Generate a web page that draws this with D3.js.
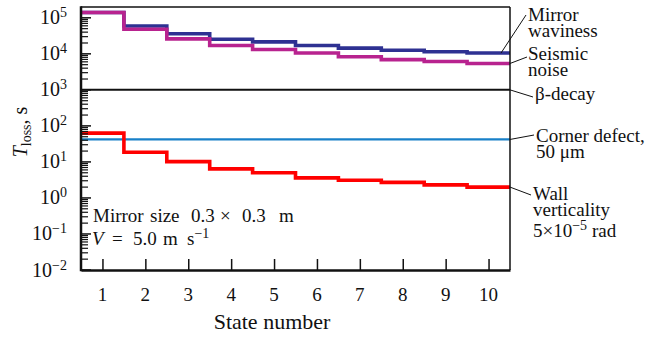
<!DOCTYPE html>
<html>
<head>
<meta charset="utf-8">
<script src="https://cdn.jsdelivr.net/npm/d3@7"></script>
<style>
  html, body { margin: 0; padding: 0; background: #fff; }
  svg { display: block; }
  text { font-family: "Liberation Serif", "DejaVu Serif", serif; fill: #111; }
</style>
</head>
<body>
<svg id="chart" width="664" height="338"></svg>
<script>
// Loss time T_loss (s) for each state number
const states = [1, 2, 3, 4, 5, 6, 7, 8, 9, 10];
const mirrorWaviness = [1.4e5, 5.9e4, 3.6e4, 2.55e4, 2.15e4, 1.7e4, 1.44e4, 1.26e4, 1.14e4, 1.05e4];
const seismicNoise   = [1.4e5, 4.8e4, 2.6e4, 1.7e4, 1.32e4, 1.05e4, 8.3e3, 6.9e3, 6.1e3, 5.4e3];
const wallVerticality = [63, 18.6, 10.2, 6.4, 5.0, 3.6, 3.1, 2.7, 2.3, 2.0];
const betaDecay = 1000;
const cornerDefect = 42;

const xTicks = [1, 2, 3, 4, 5, 6, 7, 8, 9, 10];
const yExponents = [-2, -1, 0, 1, 2, 3, 4, 5];

(function () {
const svg = d3.select("#chart");
const pLeft = 81, pRight = 510, pTop = 7, pBottom = 270;

const x = d3.scaleLinear().domain([0.5, 10.5]).range([pLeft, pRight]);
const y = d3.scaleLog().domain([1e-2, Math.pow(10, 5.3)]).range([pBottom, pTop]);

// Step outline: each state spans [n - 0.5, n + 0.5]
function stepPoints(vals) {
  const pts = vals.map((v, i) => [states[i] - 0.5, v]);
  pts.push([states[states.length - 1] + 0.5, vals[vals.length - 1]]);
  return pts;
}
const stepLine = d3.line()
  .x(d => x(d[0]))
  .y(d => y(d[1]))
  .curve(d3.curveStepAfter);

const plot = svg.append("g");

// constant levels
plot.append("line")
  .attr("x1", pLeft).attr("x2", pRight)
  .attr("y1", y(betaDecay)).attr("y2", y(betaDecay))
  .attr("stroke", "#111").attr("stroke-width", 2);
plot.append("line")
  .attr("x1", pLeft).attr("x2", pRight)
  .attr("y1", y(cornerDefect)).attr("y2", y(cornerDefect))
  .attr("stroke", "#1880c8").attr("stroke-width", 2.2);

const series = [
  { vals: mirrorWaviness, color: "#2e3192" },
  { vals: seismicNoise, color: "#b8238f" },
  { vals: wallVerticality, color: "#ff0000" }
];
series.forEach(s => {
  plot.append("path")
    .attr("d", stepLine(stepPoints(s.vals)))
    .attr("fill", "none")
    .attr("stroke", s.color)
    .attr("stroke-width", 3.6)
    .attr("stroke-linejoin", "miter");
});

// frame: thin top/right, heavier left/bottom axes
svg.append("line").attr("x1", pLeft).attr("x2", pRight).attr("y1", pTop).attr("y2", pTop)
  .attr("stroke", "#111").attr("stroke-width", 1.5);
svg.append("line").attr("x1", pRight).attr("x2", pRight).attr("y1", pTop).attr("y2", pBottom)
  .attr("stroke", "#111").attr("stroke-width", 1.5);

// x axis: ticks pointing inward
const xAxis = d3.axisBottom(x).tickValues(xTicks).tickSizeInner(-11).tickSizeOuter(0).tickFormat("");
const gx = svg.append("g").attr("transform", `translate(0,${pBottom})`).call(xAxis);
gx.select(".domain").attr("stroke", "#111").attr("stroke-width", 2.5);
gx.selectAll(".tick line").attr("stroke", "#111").attr("stroke-width", 1.5);
svg.append("g").selectAll("text").data(xTicks).join("text")
  .attr("x", d => x(d)).attr("y", 301)
  .attr("text-anchor", "middle")
  .attr("font-size", 19)
  .text(d => d);

// y axis: decade ticks and minor ticks pointing inward
const minorTicks = [];
yExponents.slice(0, -1).forEach(e => {
  for (let k = 2; k <= 9; k++) minorTicks.push(k * Math.pow(10, e));
});
for (let k = 2; k <= 9; k++) {
  const v = k * 1e5;
  if (v <= y.domain()[1]) minorTicks.push(v);
}
const gy = svg.append("g");
gy.selectAll(".minor").data(minorTicks).join("line")
  .attr("x1", pLeft).attr("x2", pLeft + 7)
  .attr("y1", d => y(d)).attr("y2", d => y(d))
  .attr("stroke", "#111").attr("stroke-width", 1.2);
gy.selectAll(".major").data(yExponents).join("line")
  .attr("x1", pLeft).attr("x2", pLeft + 10)
  .attr("y1", d => y(Math.pow(10, d))).attr("y2", d => y(Math.pow(10, d)))
  .attr("stroke", "#111").attr("stroke-width", 1.5);
gy.append("line").attr("x1", pLeft).attr("x2", pLeft).attr("y1", pTop - 0.75).attr("y2", pBottom + 1.25)
  .attr("stroke", "#111").attr("stroke-width", 2.5);

const yl = gy.selectAll(".ylab").data(yExponents).join("text")
  .attr("x", 67).attr("y", d => y(Math.pow(10, d)) + 6.5)
  .attr("text-anchor", "end").attr("font-size", 20);
yl.append("tspan").text("10");
yl.append("tspan").attr("dy", -7).attr("font-size", 14)
  .text(d => d < 0 ? "\u2212" + Math.abs(d) : String(d));

// axis titles
svg.append("text").attr("x", 272).attr("y", 329).attr("text-anchor", "middle")
  .attr("font-size", 22).text("State number");
const yt = svg.append("text")
  .attr("transform", "translate(27,132) rotate(-90)")
  .attr("text-anchor", "middle").attr("font-size", 20);
yt.append("tspan").attr("font-style", "italic").text("T");
yt.append("tspan").attr("dy", 4).attr("font-size", 14).text("loss");
yt.append("tspan").attr("dy", -4).text(", s");

// conditions (math-style spacing around operators and units)
const ms = svg.append("text").attr("y", 222).attr("font-size", 19);
[["Mirror", 93], ["size", 150], ["0.3", 191], ["\u00d7", 220], ["0.3", 242], ["m", 279]].forEach(([t, px]) => {
  ms.append("tspan").attr("x", px).text(t);
});
const vt = svg.append("text").attr("y", 245).attr("font-size", 19);
vt.append("tspan").attr("x", 92).attr("font-style", "italic").text("V");
vt.append("tspan").attr("x", 112).text("=");
vt.append("tspan").attr("x", 133).text("5.0");
vt.append("tspan").attr("x", 163).text("m");
vt.append("tspan").attr("x", 187).text("s");
vt.append("tspan").attr("dy", -7).attr("font-size", 14).text("\u22121");

// curve labels with leaders
const labels = [
  { from: [501, y(mirrorWaviness[9])], to: [526, 15], x: 528, y0: 21, lines: ["Mirror", "waviness"] },
  { from: [pRight, y(seismicNoise[9])], to: [527, 57], x: 528, y0: 60, lines: ["Seismic", "noise"] },
  { from: [pRight, y(betaDecay)], to: [533, 97], x: 535, y0: 100, lines: ["\u03b2-decay"] },
  { from: [pRight, y(cornerDefect)], to: [534, 135], x: 536, y0: 142, lines: ["Corner defect,", "50 \u03bcm"] },
  { from: [pRight, y(wallVerticality[9])], to: [531, 195], x: 533, y0: 200, lines: ["Wall", "verticality"] }
];
const lg = svg.append("g");
labels.forEach(l => {
  lg.append("line")
    .attr("x1", l.from[0]).attr("y1", l.from[1])
    .attr("x2", l.to[0]).attr("y2", l.to[1])
    .attr("stroke", "#111").attr("stroke-width", 1);
  const t = lg.append("text").attr("y", l.y0).attr("font-size", 19);
  l.lines.forEach((s, i) => {
    t.append("tspan").attr("x", l.x).attr("dy", i === 0 ? 0 : 15.5).text(s);
  });
});
const rad = lg.append("text").attr("x", 533).attr("y", 237).attr("font-size", 19);
rad.append("tspan").text("5\u00d710");
rad.append("tspan").attr("dy", -7).attr("font-size", 14).text("\u22125");
rad.append("tspan").attr("dy", 7).text(" rad");
})();
</script>
</body>
</html>
